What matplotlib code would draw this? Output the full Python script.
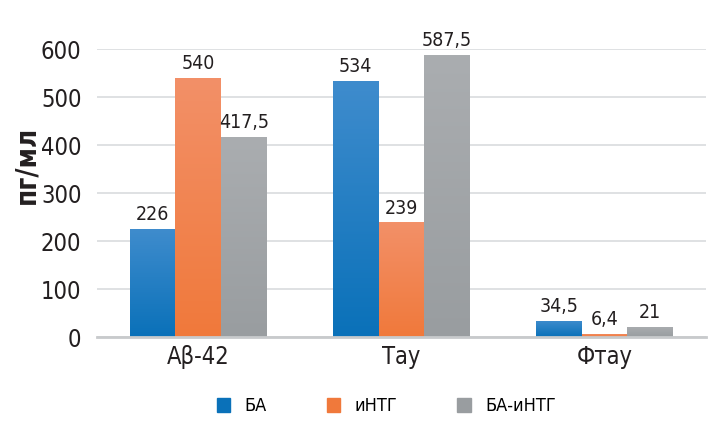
import numpy as np
import matplotlib.pyplot as plt
from matplotlib.colors import LinearSegmentedColormap
from matplotlib.patches import Patch

categories = ['Aβ-42', 'Тау', 'Фтау']
series = ['БА', 'иНТГ', 'БА-иНТГ']
ba = [226, 534, 34.5]
intg = [540, 239, 6.4]
ba_intg = [417.5, 587.5, 21]
value_labels = [['226', '534', '34,5'], ['540', '239', '6,4'], ['417,5', '587,5', '21']]

# top / bottom colours of each gradient bar
grad = [('#3f8ccd', '#0a71b9'), ('#f39068', '#f0793b'), ('#aaadb0', '#999da0')]

plt.rcParams['font.family'] = ['DejaVu Sans']
plt.rcParams['font.stretch'] = 'condensed'

fig = plt.figure(figsize=(7.22, 4.24), dpi=100)
ax = fig.add_axes([0.134, 0.205, 0.844, 0.679])

x = np.arange(len(categories))
w = 0.225
values = [ba, intg, ba_intg]
for i, vals in enumerate(values):
    bars = ax.bar(x + (i - 1) * w, vals, w, color=grad[i][1], zorder=2)
    cmap = LinearSegmentedColormap.from_list('g%d' % i, [grad[i][1], grad[i][0]])
    for b, lab in zip(bars, value_labels[i]):
        x0, h = b.get_x(), b.get_height()
        im = ax.imshow(np.linspace(0, 1, 100).reshape(-1, 1), cmap=cmap, origin='lower',
                       extent=[x0, x0 + w, 0, h], aspect='auto', zorder=2)
        im.set_clip_path(b)
        ax.text(x0 + w / 2, h + 10, lab, ha='center', va='bottom', fontsize=14, color='#231f20')

ax.set_xlim(-0.5, 2.5)
ax.set_ylim(0, 600)
ax.set_yticks(range(0, 601, 100))
ax.set_xticks(x)
ax.set_xticklabels(categories)
ax.tick_params(axis='y', length=0, pad=11, labelsize=17, labelcolor='#231f20')
ax.tick_params(axis='x', length=0, pad=6, labelsize=17, labelcolor='#231f20')
ax.grid(axis='y', color='#d9dcde', linewidth=1.2, zorder=0)
for s in ['top', 'right', 'left']:
    ax.spines[s].set_visible(False)
ax.spines['bottom'].set_color('#c8cacc')
ax.spines['bottom'].set_linewidth(2)
ax.spines['bottom'].set_zorder(3)
fig.text(26 / 722, 1 - 165 / 424, 'пг/мл', rotation=90, ha='center', va='center',
         fontsize=20, fontweight='bold', color='#231f20')

handles = [Patch(color=grad[i][1]) for i in range(3)]
fig.legend(handles, series, loc='lower center', bbox_to_anchor=(0.535, -0.018), ncol=3,
           frameon=False, fontsize=13, handlelength=0.75, handleheight=0.75,
           columnspacing=3.3, handletextpad=0.8)

fig.savefig('out.png', dpi=100)
